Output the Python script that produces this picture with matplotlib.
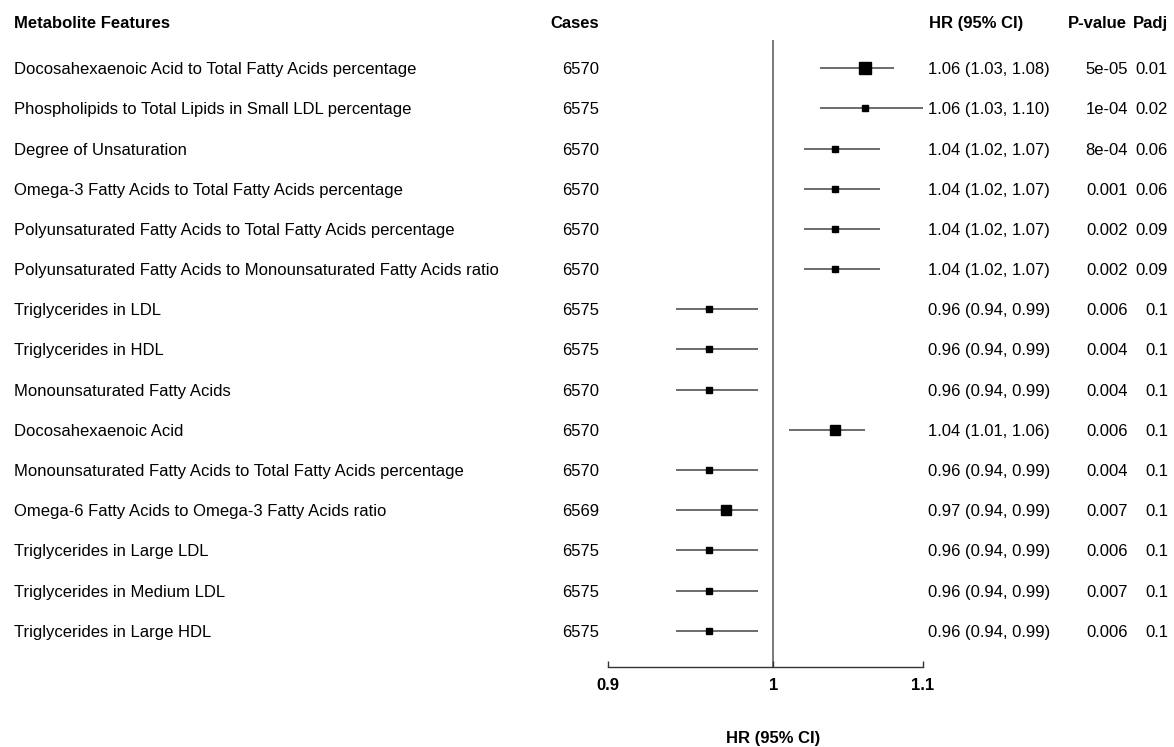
import matplotlib
matplotlib.use("Agg")
import matplotlib.pyplot as plt
from matplotlib.transforms import blended_transform_factory

plt.rcParams["font.family"] = ["Liberation Sans", "DejaVu Sans"]

features = [
    "Docosahexaenoic Acid to Total Fatty Acids percentage",
    "Phospholipids to Total Lipids in Small LDL percentage",
    "Degree of Unsaturation",
    "Omega-3 Fatty Acids to Total Fatty Acids percentage",
    "Polyunsaturated Fatty Acids to Total Fatty Acids percentage",
    "Polyunsaturated Fatty Acids to Monounsaturated Fatty Acids ratio",
    "Triglycerides in LDL",
    "Triglycerides in HDL",
    "Monounsaturated Fatty Acids",
    "Docosahexaenoic Acid",
    "Monounsaturated Fatty Acids to Total Fatty Acids percentage",
    "Omega-6 Fatty Acids to Omega-3 Fatty Acids ratio",
    "Triglycerides in Large LDL",
    "Triglycerides in Medium LDL",
    "Triglycerides in Large HDL",
]
cases = [6570, 6575, 6570, 6570, 6570, 6570, 6575, 6575, 6570, 6570, 6570, 6569, 6575, 6575, 6575]
hr = [1.06, 1.06, 1.04, 1.04, 1.04, 1.04, 0.96, 0.96, 0.96, 1.04, 0.96, 0.97, 0.96, 0.96, 0.96]
ci_low = [1.03, 1.03, 1.02, 1.02, 1.02, 1.02, 0.94, 0.94, 0.94, 1.01, 0.94, 0.94, 0.94, 0.94, 0.94]
ci_high = [1.08, 1.10, 1.07, 1.07, 1.07, 1.07, 0.99, 0.99, 0.99, 1.06, 0.99, 0.99, 0.99, 0.99, 0.99]
p_value = ["5e-05", "1e-04", "8e-04", "0.001", "0.002", "0.002", "0.006", "0.004",
           "0.004", "0.006", "0.004", "0.007", "0.006", "0.007", "0.006"]
p_adj = ["0.01", "0.02", "0.06", "0.06", "0.09", "0.09", "0.1", "0.1",
         "0.1", "0.1", "0.1", "0.1", "0.1", "0.1", "0.1"]
# relative study weight, drives the box size
box_weight = [1.6, 0.85, 1.0, 1.0, 1.0, 1.0, 1.0, 1.0, 1.0, 1.45, 1.0, 1.45, 1.0, 1.0, 1.0]
x_ticks = [0.9, 1.0, 1.1]
x_tick_labels = ["0.9", "1", "1.1"]

W, H = 1174, 747
fig = plt.figure(figsize=(W / 100, H / 100), dpi=100)

ax_left, ax_right = 608, 923
ax_top, ax_bottom = 40, 667
ax = fig.add_axes([ax_left / W, 1 - ax_bottom / H, (ax_right - ax_left) / W, (ax_bottom - ax_top) / H])
ax.set_xscale("log")
ax.set_xlim(0.9, 1.1)
ax.set_ylim(15.9, 0.3)

rows = list(range(1, len(features) + 1))
ax.axvline(1.0, color="#555555", lw=1.1, zorder=1)
ax.hlines(rows, ci_low, ci_high, color="#444444", lw=1.1, zorder=2)
for r, h, w in zip(rows, hr, box_weight):
    ax.plot(h, r, marker="s", color="black", markersize=5.0 * w, zorder=3, linestyle="none")

for s in ["top", "right", "left"]:
    ax.spines[s].set_visible(False)
ax.spines["bottom"].set_color("#333333")
ax.spines["bottom"].set_linewidth(1.0)
ax.set_xticks(x_ticks)
ax.set_xticklabels(x_tick_labels, fontsize=12, fontweight="bold")
ax.xaxis.set_minor_locator(matplotlib.ticker.NullLocator())
ax.tick_params(axis="x", direction="in", length=4, width=1, color="#333333", pad=8)
ax.set_yticks([])
ax.patch.set_alpha(0)

# blended transform: x in figure pixels, y in row units
tr = blended_transform_factory(fig.transFigure, ax.transData)
fx = lambda px: px / W
fs = 12
va = "center_baseline"

for r, name, n, h, lo, hi, p, pa in zip(rows, features, cases, hr, ci_low, ci_high, p_value, p_adj):
    fig.text(fx(14), r, name, transform=tr, ha="left", va=va, fontsize=fs)
    fig.text(fx(599), r, str(n), transform=tr, ha="right", va=va, fontsize=fs)
    fig.text(fx(928), r, f"{h:.2f} ({lo:.2f}, {hi:.2f})", transform=tr, ha="left", va=va, fontsize=fs)
    fig.text(fx(1128), r, p, transform=tr, ha="right", va=va, fontsize=fs)
    fig.text(fx(1168), r, pa, transform=tr, ha="right", va=va, fontsize=fs)

hy = 1 - 22 / H
fig.text(fx(14), hy, "Metabolite Features", ha="left", va=va, fontsize=fs, fontweight="bold")
fig.text(fx(599), hy, "Cases", ha="right", va=va, fontsize=fs, fontweight="bold")
fig.text(fx(929), hy, "HR (95% CI)", ha="left", va=va, fontsize=fs, fontweight="bold")
fig.text(fx(1127), hy, "P-value", ha="right", va=va, fontsize=fs, fontweight="bold")
fig.text(fx(1168), hy, "Padj", ha="right", va=va, fontsize=fs, fontweight="bold")

xl_tr = blended_transform_factory(ax.transData, fig.transFigure)
fig.text(1.0, 1 - 738 / H, "HR (95% CI)", transform=xl_tr, ha="center", va="center",
         fontsize=fs, fontweight="bold")

fig.savefig("out.png", dpi=100, facecolor="white")
